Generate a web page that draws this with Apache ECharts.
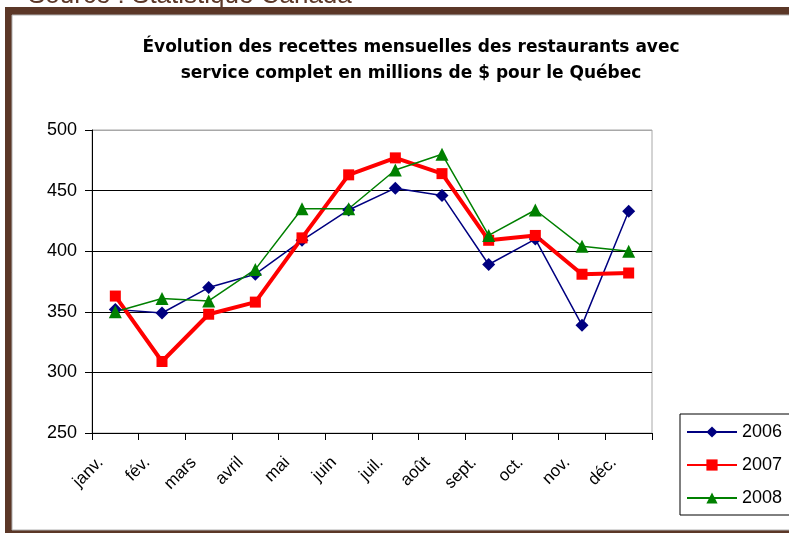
<!DOCTYPE html>
<html>
<head>
<meta charset="utf-8">
<script src="https://cdn.jsdelivr.net/npm/echarts@6/dist/echarts.min.js"></script>
<style>
  html, body { margin: 0; padding: 0; background: #fff; }
  #chart { width: 789px; height: 533px; }
</style>
</head>
<body>
<div id="chart"></div>
<script>
// données
var mois = ['janv.', 'fév.', 'mars', 'avril', 'mai', 'juin', 'juil.', 'août', 'sept.', 'oct.', 'nov.', 'déc.'];
var annees = ['2006', '2007', '2008'];
var recettes2006 = [352, 349, 370, 381, 409, 434, 452, 446, 389, 410, 339, 433];
var recettes2007 = [363, 309, 348, 358, 411, 463, 477, 464, 409, 413, 381, 382];
var recettes2008 = [350, 361, 359, 385, 435, 435, 467, 480, 413, 434, 404, 400];

var chart = echarts.init(document.getElementById('chart'));

var police = 'Liberation Sans, Arial, sans-serif';

var option = {
    animation: false,
    textStyle: { fontFamily: police },
    graphic: [
        // cadre brun
        { type: 'rect', shape: { x: 5, y: 7, width: 800, height: 530 }, style: { fill: '#5b3727' }, z: -10 },
        { type: 'rect', shape: { x: 12, y: 15, width: 800, height: 515 }, style: { fill: '#fff', stroke: '#b0b0b0', lineWidth: 1 }, z: -9 },
        { type: 'text', left: 28, top: -17, style: { text: 'Source : Statistique Canada', fill: '#5b3727', font: '26px Liberation Sans, Arial, sans-serif' }, z: 5 }
    ],
    title: {
        text: 'Évolution des recettes mensuelles des restaurants avec\nservice complet en millions de $ pour le Québec',
        left: 406,
        textAlign: 'center',
        top: 30,
        textStyle: { fontSize: 17, fontWeight: 'bold', color: '#000', lineHeight: 26, fontFamily: 'DejaVu Sans' }
    },
    legend: {
        orient: 'vertical',
        left: 680,
        top: 414,
        data: annees,
        itemWidth: 50,
        itemHeight: 14,
        itemGap: 15,
        padding: [9, 20, 8, 6],
        borderColor: '#000',
        borderWidth: 1,
        textStyle: { fontSize: 18, color: '#000', fontFamily: police }
    },
    grid: {
        left: 92, top: 130, width: 560, height: 303,
        show: true, borderColor: '#a8a8a8', borderWidth: 1
    },
    xAxis: {
        type: 'category',
        data: mois,
        boundaryGap: true,
        axisLine: { lineStyle: { color: '#000', width: 1 } },
        axisTick: { show: true, alignWithLabel: false, length: 7, lineStyle: { color: '#000' } },
        axisLabel: { rotate: 45, fontSize: 17, color: '#000', margin: 12, padding: [0, 21, 0, 0], interval: 0, fontFamily: police }
    },
    yAxis: {
        type: 'value',
        min: 250, max: 500, interval: 50,
        axisLine: { show: true, lineStyle: { color: '#000', width: 1 } },
        axisTick: { show: true, length: 7, lineStyle: { color: '#000' } },
        axisLabel: { fontSize: 18, color: '#000', margin: 15, fontFamily: police },
        splitLine: { show: true, lineStyle: { color: ['#000', '#000', '#000', '#000', '#000', '#a8a8a8'], width: 1 } }
    },
    series: [
        {
            name: '2006', type: 'line', data: recettes2006,
            symbol: 'diamond', symbolSize: 13,
            lineStyle: { color: '#000080', width: 1.5 },
            itemStyle: { color: '#000080' }
        },
        {
            name: '2007', type: 'line', data: recettes2007,
            symbol: 'rect', symbolSize: 11,
            lineStyle: { color: '#ff0000', width: 4 },
            itemStyle: { color: '#ff0000' }
        },
        {
            name: '2008', type: 'line', data: recettes2008,
            symbol: 'triangle', symbolSize: 13,
            lineStyle: { color: '#008000', width: 1.5 },
            itemStyle: { color: '#008000' }
        }
    ]
};

chart.setOption(option);
</script>
</body>
</html>
